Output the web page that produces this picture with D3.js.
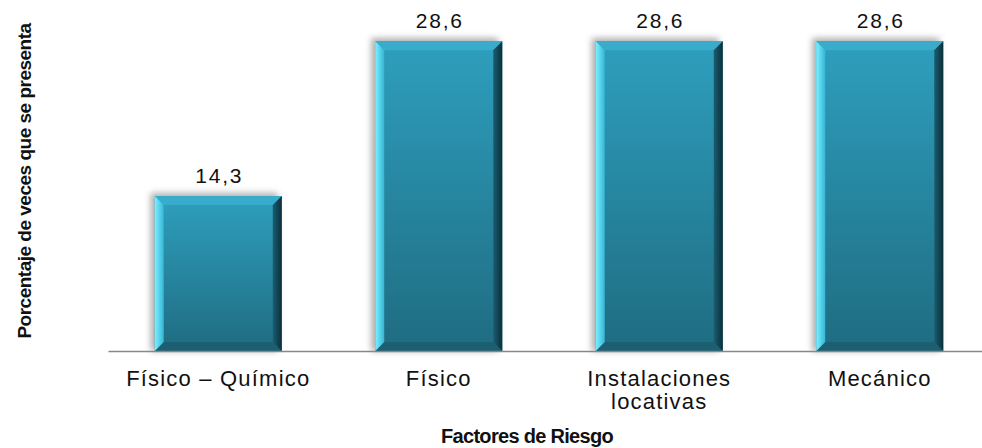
<!DOCTYPE html>
<html>
<head>
<meta charset="utf-8">
<script src="https://cdn.jsdelivr.net/npm/d3@7"></script>
<style>
	html, body { margin: 0; padding: 0; background: #fff; }
	svg { display: block; font-family: Arial, "Liberation Sans", sans-serif; }
</style>
</head>
<body>
<div id="container"></div>
<script>
// Chart data
const categories = ["Físico – Químico", "Físico", "Instalaciones locativas", "Mecánico"];
const categoryLines = [["Físico – Químico"], ["Físico"], ["Instalaciones", "locativas"], ["Mecánico"]];
const values = [14.3, 28.6, 28.6, 28.6];
const valueLabels = ["14,3", "28,6", "28,6", "28,6"];
const xTitle = "Factores de Riesgo";
const yTitle = "Porcentaje de veces que se presenta";

// Dimensions
const width = 982;
const height = 448;
const marginLeft = 108;
const plotRight = 990;
const baseY = 351;
const topY = 26;
const bevel = 9;

const x = d3.scaleBand()
	.domain(categories)
	.range([marginLeft, plotRight])
	.paddingInner(0.424)
	.paddingOuter(0.212);

const y = d3.scaleLinear()
	.domain([0, 30])
	.range([baseY, topY]);

const svg = d3.select("#container").append("svg")
	.attr("width", width)
	.attr("height", height);

const defs = svg.append("defs");

// main face gradient
const face = defs.append("linearGradient")
	.attr("id", "face")
	.attr("x1", 0).attr("y1", 0).attr("x2", 0).attr("y2", 1);
face.append("stop").attr("offset", "0%").attr("stop-color", "#2e9fbe");
face.append("stop").attr("offset", "100%").attr("stop-color", "#1f6c81");

const leftG = defs.append("linearGradient")
	.attr("id", "leftbevel")
	.attr("x1", 0).attr("y1", 0).attr("x2", 1).attr("y2", 0);
leftG.append("stop").attr("offset", "0%").attr("stop-color", "#7cf0ff");
leftG.append("stop").attr("offset", "100%").attr("stop-color", "#34b6d6");

const rightG = defs.append("linearGradient")
	.attr("id", "rightbevel")
	.attr("x1", 0).attr("y1", 0).attr("x2", 1).attr("y2", 0);
rightG.append("stop").attr("offset", "0%").attr("stop-color", "#1a5d70");
rightG.append("stop").attr("offset", "100%").attr("stop-color", "#0b2f3a");

const shadow = defs.append("filter")
	.attr("id", "shadow")
	.attr("x", "-20%").attr("y", "-20%").attr("width", "140%").attr("height", "140%");
shadow.append("feGaussianBlur").attr("stdDeviation", 3);

// Bars
const bars = svg.append("g").selectAll("g")
	.data(values)
	.join("g")
		.attr("transform", (d, i) => `translate(${x(categories[i])},${y(d)})`);

const bw = x.bandwidth();

bars.append("rect")
	.attr("x", -4)
	.attr("y", -3)
	.attr("width", bw)
	.attr("height", d => baseY - y(d) + 3)
	.attr("fill", "#9a9a9a")
	.attr("opacity", 0.8)
	.attr("filter", "url(#shadow)");

bars.append("rect")
	.attr("width", bw)
	.attr("height", d => baseY - y(d))
	.attr("fill", "url(#face)");

// top bevel
bars.append("path")
	.attr("fill", "#3aaccb")
	.attr("d", d => d3.line()([[0, 0], [bw, 0], [bw - bevel, bevel], [bevel, bevel]]));

// bottom bevel
bars.append("path")
	.attr("fill", "#1b5f72")
	.attr("d", d => {
		let h = baseY - y(d);
		return d3.line()([[0, h], [bevel, h - bevel], [bw - bevel, h - bevel], [bw, h]]);
	});

// left bevel
bars.append("path")
	.attr("fill", "url(#leftbevel)")
	.attr("d", d => {
		let h = baseY - y(d);
		return d3.line()([[0, 0], [bevel, bevel], [bevel, h - bevel], [0, h]]);
	});

// right bevel
bars.append("path")
	.attr("fill", "url(#rightbevel)")
	.attr("d", d => {
		let h = baseY - y(d);
		return d3.line()([[bw, 0], [bw - bevel, bevel], [bw - bevel, h - bevel], [bw, h]]);
	});

// Value labels
svg.append("g").selectAll("text")
	.data(values)
	.join("text")
		.attr("x", (d, i) => x(categories[i]) + bw / 2 + 1)
		.attr("y", d => y(d) - 13)
		.attr("text-anchor", "middle")
		.attr("font-size", "21px")
		.attr("letter-spacing", "1.8px")
		.attr("fill", "#111")
		.text((d, i) => valueLabels[i]);

// X axis
const xAxis = svg.append("g")
	.attr("transform", `translate(0,${baseY})`)
	.call(d3.axisBottom(x).tickSize(0).tickSizeOuter(0).tickFormat(""));
xAxis.select(".domain")
	.attr("stroke", "#888")
	.attr("stroke-width", 1.5);

xAxis.selectAll(".tick text").remove();
xAxis.selectAll(".tick").each(function(d, i) {
	const t = d3.select(this).append("text")
		.attr("text-anchor", "middle")
		.attr("font-size", "22px")
		.attr("letter-spacing", "1.2px")
		.attr("fill", "#111");
	categoryLines[i].forEach((line, j) => {
		t.append("tspan")
			.attr("x", 0)
			.attr("y", 35 + j * 23)
			.text(line);
	});
});

// Axis titles
svg.append("text")
	.attr("x", 527)
	.attr("y", 443)
	.attr("text-anchor", "middle")
	.attr("font-size", "20px")
	.attr("font-weight", "bold")
	.attr("letter-spacing", "-0.7px")
	.attr("fill", "#111")
	.text(xTitle);

svg.append("text")
	.attr("transform", "translate(31,181) rotate(-90)")
	.attr("text-anchor", "middle")
	.attr("font-size", "19px")
	.attr("font-weight", "bold")
	.attr("letter-spacing", "-0.5px")
	.attr("fill", "#111")
	.text(yTitle);
</script>
</body>
</html>
